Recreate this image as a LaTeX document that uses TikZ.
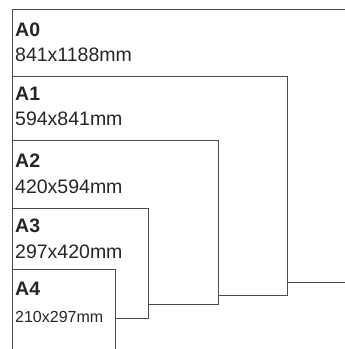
\documentclass[tikz,border=0pt]{standalone}
\usepackage{fontspec}
\setmainfont{Liberation Sans}
\begin{document}
\begin{tikzpicture}[x=1pt,y=-1pt]
\tikzstyle{sheet}=[draw=black!70, fill=white, line width=0.9pt]
\tikzstyle{every node}+=[inner sep=0pt, anchor=base west, text=black!85]
\tikzstyle{sizename}=[font=\fontsize{19.5}{21}\selectfont\bfseries]
\tikzstyle{sizedim}=[font=\fontsize{19.5}{21}\selectfont]
\useasboundingbox (0,0) rectangle (345,349);
\fill [white] (0,0) rectangle (345,349);
\clip (0,0) rectangle (345,349);
% sheets, largest first so the smaller ones lie on top
\draw [sheet] (12.5,9) rectangle (360,282);
\draw [sheet] (12.5,76) rectangle (287,295);
\draw [sheet] (12.5,140) rectangle (218.5,304);
\draw [sheet] (12.5,208) rectangle (148.5,318);
\draw [sheet] (12.5,269) rectangle (115.5,360);
% labels
\node [sizename] (a0) at (15,36.5) {A0};
\node [sizedim] (a0dim) at (15,61) {841x1188mm};
\node [sizename] (a1) at (15,100) {A1};
\node [sizedim] (a1dim) at (15,125) {594x841mm};
\node [sizename] (a2) at (15,167) {A2};
\node [sizedim] (a2dim) at (15,193) {420x594mm};
\node [sizename] (a3) at (15,232) {A3};
\node [sizedim] (a3dim) at (15,258) {297x420mm};
\node [sizename] (a4) at (15,295) {A4};
\node [sizedim, font=\fontsize{16}{18}\selectfont] (a4dim) at (15,322) {210x297mm};
\end{tikzpicture}
\end{document}
